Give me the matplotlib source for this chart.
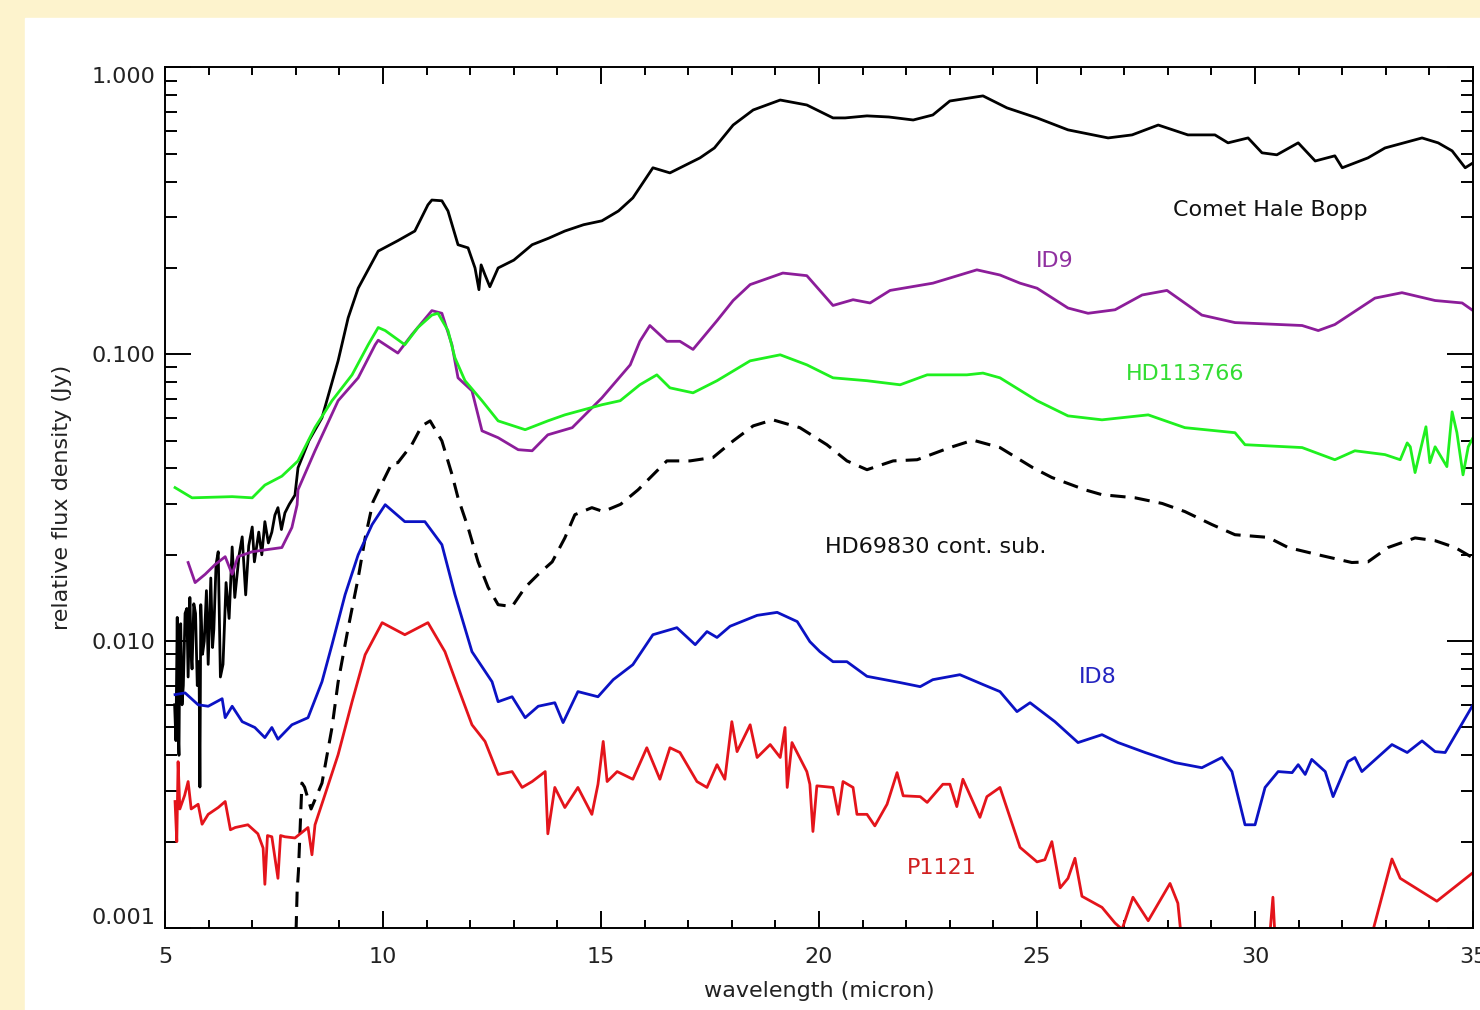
import numpy as np
import matplotlib
matplotlib.use("Agg")
import matplotlib.pyplot as plt
from matplotlib.ticker import MultipleLocator, LogLocator, NullFormatter
from matplotlib.patches import Rectangle

# ---- data (wavelength in micron, relative flux density in Jy) ----
comet_wl = [5.22, 5.25, 5.28, 5.30, 5.32, 5.34, 5.36, 5.39, 5.42, 5.46, 5.50, 5.53, 5.57, 5.60,
            5.62, 5.66, 5.70, 5.74, 5.78, 5.80, 5.82, 5.86, 5.90, 5.95, 5.99, 6.05, 6.09, 6.12,
            6.17, 6.22, 6.27, 6.33, 6.40, 6.47, 6.54, 6.60, 6.70, 6.77, 6.85, 6.92, 7.00, 7.05,
            7.15, 7.22, 7.29, 7.37, 7.45, 7.52, 7.59, 7.67, 7.75, 7.85, 7.98, 8.05, 8.30, 8.60,
            8.97, 9.20, 9.43, 9.89, 10.34, 10.73, 11.03, 11.12, 11.35, 11.49, 11.72, 11.95,
            12.11, 12.20, 12.25, 12.34, 12.45, 12.64, 13.00, 13.42, 13.80, 14.17, 14.60, 15.02,
            15.40, 15.73, 16.19, 16.58, 17.27, 17.60, 18.03, 18.49, 19.11, 19.72, 20.32, 20.60,
            21.10, 21.60, 22.16, 22.61, 23.00, 23.76, 24.31, 25.00, 25.71, 26.63, 27.18, 27.78,
            28.46, 29.08, 29.38, 29.84, 30.16, 30.50, 30.99, 31.38, 31.83, 32.00, 32.59, 32.98,
            33.83, 34.20, 34.52, 34.82, 35.00]
comet_fx = [0.0060, 0.0045, 0.0121, 0.0050, 0.0040, 0.0110, 0.0115, 0.0060, 0.0070, 0.0125, 0.0130,
            0.0075, 0.0142, 0.0090, 0.0080, 0.0135, 0.0125, 0.0070, 0.0085, 0.0031, 0.0134, 0.0090,
            0.0100, 0.0150, 0.0083, 0.0166, 0.0095, 0.0110, 0.0185, 0.0205, 0.0075, 0.0083, 0.0160,
            0.0120, 0.0213, 0.0142, 0.0200, 0.0231, 0.0145, 0.0215, 0.0250, 0.0189, 0.0240, 0.0200,
            0.0261, 0.0220, 0.0240, 0.0275, 0.0292, 0.0245, 0.0280, 0.0300, 0.0323, 0.0402, 0.0500,
            0.0601, 0.0949, 0.134, 0.170, 0.229, 0.249, 0.269, 0.332, 0.345, 0.343, 0.316, 0.241,
            0.235, 0.200, 0.168, 0.205, 0.189, 0.172, 0.200, 0.213, 0.241, 0.254, 0.269, 0.283,
            0.292, 0.316, 0.351, 0.447, 0.429, 0.484, 0.524, 0.630, 0.711, 0.770, 0.740, 0.667,
            0.667, 0.678, 0.672, 0.656, 0.683, 0.764, 0.796, 0.723, 0.667, 0.606, 0.568, 0.582,
            0.630, 0.582, 0.582, 0.546, 0.568, 0.504, 0.496, 0.546, 0.472, 0.492, 0.447, 0.484,
            0.524, 0.568, 0.546, 0.512, 0.447, 0.465]

id9_wl = [5.53, 5.69, 5.92, 6.15, 6.38, 6.54, 6.67, 7.00, 7.29, 7.68, 7.91, 8.03, 8.05, 8.44, 8.97,
          9.43, 9.82, 9.89, 10.34, 10.66, 11.12, 11.35, 11.58, 11.72, 12.04, 12.27, 12.64, 13.10,
          13.42, 13.78, 14.34, 15.02, 15.67, 15.89, 16.12, 16.51, 16.81, 17.11, 17.66, 18.03,
          18.42, 19.17, 19.72, 20.32, 20.78, 21.17, 21.63, 22.61, 23.62, 24.15, 24.61, 25.00,
          25.71, 26.17, 26.79, 27.41, 27.98, 28.78, 29.54, 31.08, 31.45, 31.83, 32.75, 33.37,
          34.13, 34.75, 35.00]
id9_fx = [0.0188, 0.0160, 0.0171, 0.0185, 0.0197, 0.0171, 0.0197, 0.0205, 0.0208, 0.0212, 0.0249,
          0.0299, 0.0337, 0.0461, 0.0689, 0.0828, 0.108, 0.112, 0.101, 0.117, 0.142, 0.139, 0.108,
          0.0828, 0.0746, 0.0541, 0.0512, 0.0465, 0.0461, 0.0524, 0.0555, 0.0705, 0.0919, 0.111,
          0.126, 0.111, 0.111, 0.104, 0.131, 0.154, 0.175, 0.192, 0.188, 0.148, 0.155, 0.151,
          0.167, 0.177, 0.197, 0.189, 0.177, 0.170, 0.145, 0.139, 0.143, 0.161, 0.167, 0.137,
          0.129, 0.126, 0.121, 0.127, 0.157, 0.164, 0.154, 0.151, 0.142]

hd113766_wl = [5.23, 5.62, 6.54, 7.00, 7.29, 7.68, 8.05, 8.44, 8.83, 9.29, 9.66, 9.89, 10.05, 10.50,
               10.80, 11.12, 11.26, 11.49, 11.65, 11.88, 12.27, 12.64, 13.26, 13.78, 14.17, 15.02,
               15.44, 15.89, 16.28, 16.58, 17.11, 17.66, 18.42, 19.11, 19.72, 20.32, 21.10, 21.86,
               22.48, 23.39, 23.76, 24.15, 25.00, 25.71, 26.49, 27.55, 28.39, 29.54, 29.77, 31.08,
               31.83, 32.29, 32.98, 33.33, 33.49, 33.56, 33.67, 33.92, 34.01, 34.13, 34.40, 34.52,
               34.63, 34.77, 34.89, 35.00]
hd113766_fx = [0.0343, 0.0316, 0.0319, 0.0316, 0.0350, 0.0376, 0.0425, 0.0556, 0.0689, 0.0848,
               0.108, 0.124, 0.121, 0.108, 0.124, 0.137, 0.139, 0.121, 0.0972, 0.0809, 0.0689,
               0.0586, 0.0546, 0.0586, 0.0615, 0.0667, 0.0689, 0.0783, 0.0848, 0.0764, 0.0734,
               0.0809, 0.0949, 0.0996, 0.0919, 0.0828, 0.0809, 0.0783, 0.0848, 0.0848, 0.0860,
               0.0828, 0.0689, 0.0610, 0.0591, 0.0615, 0.0555, 0.0533, 0.0484, 0.0473, 0.0429,
               0.0461, 0.0447, 0.0429, 0.0491, 0.0476, 0.0387, 0.0559, 0.0419, 0.0476, 0.0406,
               0.0630, 0.0533, 0.0380, 0.0476, 0.0512]

hd69830_wl = [7.99, 8.03, 8.06, 8.14, 8.20, 8.35, 8.60, 8.83, 8.97, 9.20, 9.43, 9.59, 9.77, 9.89,
              10.21, 10.34, 10.66, 10.89, 11.08, 11.35, 11.58, 11.72, 11.95, 12.18, 12.41, 12.64,
              12.96, 13.26, 13.56, 13.88, 14.17, 14.40, 14.79, 15.05, 15.45, 15.85, 16.51, 17.04,
              17.57, 18.03, 18.49, 18.94, 19.56, 20.18, 20.64, 21.10, 21.70, 22.25, 23.00, 23.53,
              24.15, 24.91, 25.34, 26.10, 26.49, 27.25, 27.87, 28.39, 29.01, 29.54, 30.30, 30.76,
              31.45, 32.22, 32.59, 33.05, 33.67, 34.13, 34.59, 35.00]
hd69830_fx = [0.0008, 0.00134, 0.00158, 0.0032, 0.0031, 0.0026, 0.0032, 0.0050, 0.0072, 0.0111,
              0.0166, 0.0229, 0.0306, 0.0334, 0.0419, 0.0419, 0.0484, 0.0563, 0.0586, 0.0499,
              0.0382, 0.0316, 0.0249, 0.0189, 0.0154, 0.0134, 0.0132, 0.0154, 0.0171, 0.0189,
              0.0229, 0.0276, 0.0292, 0.0283, 0.0300, 0.0337, 0.0425, 0.0425, 0.0437, 0.0499,
              0.0563, 0.0591, 0.0555, 0.0484, 0.0425, 0.0396, 0.0425, 0.0429, 0.0473, 0.0502,
              0.0473, 0.0402, 0.0372, 0.0337, 0.0324, 0.0316, 0.0302, 0.0283, 0.0255, 0.0235,
              0.0230, 0.0212, 0.0200, 0.0188, 0.0189, 0.0212, 0.0229, 0.0224, 0.0212, 0.0195]

id8_wl = [5.23, 5.46, 5.76, 5.99, 6.31, 6.38, 6.54, 6.77, 7.06, 7.29, 7.45, 7.59, 7.91, 8.28, 8.60,
          8.83, 9.13, 9.43, 9.75, 10.05, 10.50, 10.96, 11.35, 11.65, 12.04, 12.50, 12.64, 12.96,
          13.26, 13.56, 13.94, 14.13, 14.47, 14.93, 15.28, 15.73, 16.19, 16.74, 17.16, 17.43,
          17.66, 17.96, 18.58, 19.04, 19.50, 19.79, 20.02, 20.32, 20.64, 21.10, 21.86, 22.32,
          22.61, 23.23, 23.76, 24.15, 24.54, 24.84, 25.41, 25.94, 26.49, 26.86, 27.48, 28.17,
          28.78, 29.24, 29.47, 29.77, 30.00, 30.23, 30.53, 30.85, 30.99, 31.15, 31.30, 31.61,
          31.79, 32.13, 32.29, 32.45, 33.14, 33.49, 33.83, 34.13, 34.36, 35.00]
id8_fx = [0.00651, 0.0066, 0.0060, 0.00593, 0.0063, 0.00541, 0.00593, 0.00524, 0.0050, 0.00461,
          0.0050, 0.00455, 0.00511, 0.00541, 0.00722, 0.00972, 0.01452, 0.0200, 0.0255, 0.0299,
          0.0261, 0.0261, 0.0217, 0.01452, 0.00919, 0.00722, 0.00615, 0.0064, 0.00541, 0.00593,
          0.0061, 0.0052, 0.00667, 0.0064, 0.00734, 0.00828, 0.01053, 0.01114, 0.00972, 0.0108,
          0.0103, 0.01127, 0.0123, 0.0126, 0.0117, 0.00996, 0.00919, 0.00848, 0.00848, 0.00754,
          0.00717, 0.00694, 0.00734, 0.00764, 0.00706, 0.00667, 0.00568, 0.0061, 0.00524, 0.00443,
          0.00472, 0.00443, 0.00409, 0.00377, 0.00362, 0.00393, 0.00351, 0.00229, 0.00229, 0.00309,
          0.00351, 0.00348, 0.00371, 0.00343, 0.00387, 0.00351, 0.00287, 0.0038, 0.00393, 0.00351,
          0.00436, 0.00409, 0.00449, 0.00412, 0.00409, 0.0060]

p1121_wl = [5.23, 5.27, 5.30, 5.34, 5.45, 5.53, 5.60, 5.76, 5.85, 5.99, 6.22, 6.38, 6.50, 6.61, 6.90,
            7.13, 7.25, 7.29, 7.35, 7.45, 7.59, 7.65, 7.75, 7.98, 8.28, 8.37, 8.44, 8.67, 8.97,
            9.29, 9.59, 9.98, 10.50, 11.03, 11.42, 11.72, 12.04, 12.34, 12.64, 12.96, 13.19, 13.42,
            13.72, 13.78, 13.94, 14.17, 14.47, 14.79, 14.93, 15.05, 15.14, 15.37, 15.73, 16.05,
            16.35, 16.58, 16.81, 17.20, 17.43, 17.66, 17.84, 18.00, 18.12, 18.42, 18.58, 18.88,
            19.11, 19.22, 19.27, 19.38, 19.72, 19.79, 19.86, 19.95, 20.32, 20.44, 20.55, 20.78,
            20.87, 21.10, 21.28, 21.56, 21.79, 21.93, 22.32, 22.48, 22.84, 23.00, 23.16, 23.30,
            23.69, 23.85, 24.15, 24.61, 25.00, 25.18, 25.34, 25.53, 25.71, 25.87, 26.03, 26.49,
            26.79, 26.95, 27.20, 27.55, 28.05, 28.23, 28.35, 30.30, 30.41, 30.48, 32.55, 33.14,
            33.33, 34.17, 35.00]
p1121_fx = [0.00276, 0.0020, 0.0038, 0.0026, 0.0029, 0.00324, 0.0026, 0.0027, 0.0023, 0.00249,
            0.00263, 0.00276, 0.0022, 0.00224, 0.00229, 0.00213, 0.0019, 0.00142, 0.0021, 0.00208,
            0.00149, 0.0021, 0.00208, 0.00206, 0.00224, 0.0018, 0.00229, 0.00292, 0.00402, 0.00615,
            0.00897, 0.0116, 0.01053, 0.0116, 0.00919, 0.0069, 0.00511, 0.00447, 0.00343, 0.00351,
            0.00309, 0.00324, 0.00351, 0.00213, 0.00309, 0.00263, 0.00309, 0.00249, 0.00317,
            0.00447, 0.00324, 0.00351, 0.0033, 0.00425, 0.0033, 0.00425, 0.00409, 0.00324, 0.00309,
            0.00371, 0.0033, 0.00524, 0.00412, 0.00511, 0.00393, 0.00436, 0.00393, 0.0050, 0.00309,
            0.00443, 0.00351, 0.00317, 0.00217, 0.00313, 0.00309, 0.00249, 0.00324, 0.00309,
            0.00249, 0.00249, 0.00227, 0.0027, 0.00348, 0.00289, 0.00287, 0.00274, 0.00317,
            0.00317, 0.00265, 0.0033, 0.00243, 0.00287, 0.00309, 0.00191, 0.0017, 0.00173, 0.0020,
            0.00138, 0.00149, 0.00175, 0.00129, 0.00118, 0.00104, 0.00099, 0.00128, 0.00106,
            0.00143, 0.00122, 0.0008, 0.0008, 0.00128, 0.0008, 0.0008, 0.00174, 0.00149, 0.00124,
            0.00156]

series = [
    (comet_wl, comet_fx, "black", "-"),
    (id9_wl, id9_fx, "#8c1d9a", "-"),
    (hd113766_wl, hd113766_fx, "#1ff01f", "-"),
    (hd69830_wl, hd69830_fx, "black", "--"),
    (id8_wl, id8_fx, "#0b12c4", "-"),
    (p1121_wl, p1121_fx, "#e4141b", "-"),
]

label_text = ["Comet Hale Bopp", "ID9", "HD113766", "HD69830 cont. sub.", "ID8", "P1121"]
label_x = [30.34, 25.41, 28.39, 22.68, 26.40, 22.82]
label_y = [0.319, 0.2117, 0.0855, 0.02135, 0.00752, 0.001625]
label_col = ["#111111", "#9030a0", "#33dd33", "#111111", "#2424c0", "#d02020"]

xticks = [5, 10, 15, 20, 25, 30, 35]
yticks = [0.001, 0.01, 0.1, 1.0]
ytick_labels = ["0.001", "0.010", "0.100", "1.000"]

# ---- figure ----
plt.rcParams['font.family'] = ['DejaVu Sans']
fig = plt.figure(figsize=(14.8, 10.1), dpi=100, facecolor="#fdf3cd")
fig.patches.append(Rectangle((25 / 1480, 0), 1 - 25 / 1480, 992 / 1010,
                             transform=fig.transFigure, color="white", zorder=-10))

ax = fig.add_axes([0.1115, 0.0812, 0.8838, 0.8520])
ax.set_zorder(5)
ax.set_yscale("log")
ax.set_xlim(5, 35)
ax.set_ylim(0.001, 1.0)

for wl, fx, col, ls in series:
    if ls == "--":
        ax.plot(wl, fx, color=col, lw=2.2, ls=(0, (5, 3)))
    else:
        ax.plot(wl, fx, color=col, lw=2.0)

for t, x, y, c in zip(label_text, label_x, label_y, label_col):
    ax.text(x, y, t, color=c, fontsize=16, ha="center", va="center")

ax.set_xticks(xticks)
ax.set_xticklabels([str(v) for v in xticks])
ax.xaxis.set_minor_locator(MultipleLocator(1))
ax.set_yticks(yticks)
ax.set_yticklabels(ytick_labels)
ax.yaxis.set_minor_locator(LogLocator(base=10, subs=np.arange(2, 10)))
ax.yaxis.set_minor_formatter(NullFormatter())

ax.tick_params(which="both", direction="in", top=True, right=True, width=1.4,
               labelsize=16, labelcolor="#222222")
ax.tick_params(axis="x", which="major", length=12, pad=14)
ax.tick_params(axis="x", which="minor", length=6)
ax.tick_params(axis="y", which="major", length=19, pad=7)
ax.tick_params(axis="y", which="minor", length=8.5)
for s in ax.spines.values():
    s.set_linewidth(1.4)

labs = ax.get_yticklabels()
labs[0].set_va("bottom")
labs[-1].set_va("top")

ax.set_xlabel("wavelength (micron)", fontsize=16, color="#222222", labelpad=10)
ax.set_ylabel("relative flux density (Jy)", fontsize=16, color="#222222", labelpad=14)

fig.savefig("out.png", dpi=100, facecolor=fig.get_facecolor())
